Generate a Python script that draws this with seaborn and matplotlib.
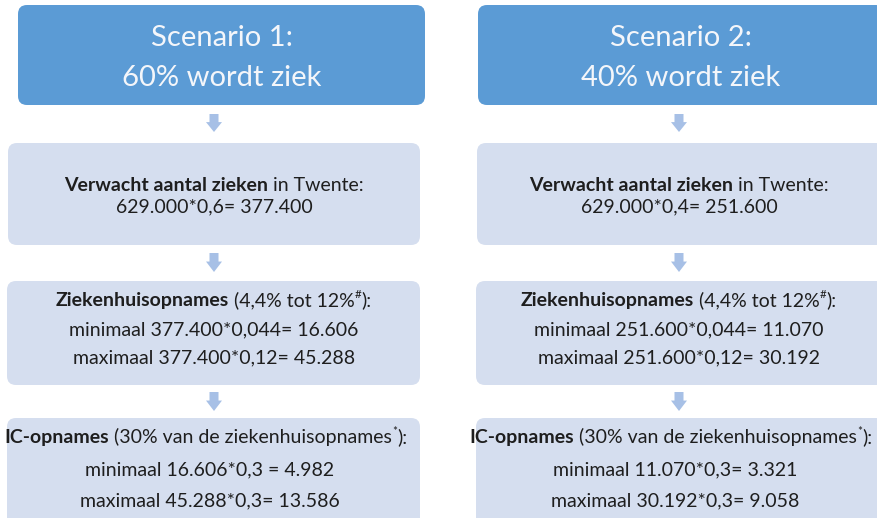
import matplotlib
matplotlib.use("Agg")
import matplotlib.pyplot as plt
import seaborn as sns
from matplotlib.patches import FancyBboxPatch, Polygon

sns.set_theme(style="white")
plt.rcParams["font.family"] = ["Lato", "DejaVu Sans"]

# scenario data
scenario_nr = [1, 2]
share_ill = ["60%", "40%"]
factor_ill = ["0,6", "0,4"]
population = "629.000"
n_ill = ["377.400", "251.600"]
hosp_min = ["16.606", "11.070"]
hosp_max = ["45.288", "30.192"]
ic_min = ["4.982", "3.321"]
ic_max = ["13.586", "9.058"]
ic_min_sep = [" = ", "= "]

HEADER = "#5B9BD5"
LIGHT = "#D5DEEF"
ARROW = "#A7C0E6"
INK = "#1E1E1E"
BODY = 14

fig = plt.figure(figsize=(8.78, 5.18), dpi=100)
ax = fig.add_axes([0, 0, 1, 1])
ax.set_xlim(0, 878)
ax.set_ylim(518, 0)
ax.axis("off")
renderer = fig.canvas.get_renderer()


def box(x0, y0, x1, y1, color):
    p = FancyBboxPatch((x0 + 9, y0 + 9), x1 - x0 - 18, y1 - y0 - 18,
                       boxstyle="round,pad=9", fc=color, ec="none", zorder=1)
    ax.add_patch(p)


def arrow(xc, y0, y1):
    h = y1 - y0
    pts = [(xc - 4.5, y0), (xc + 4.5, y0), (xc + 4.5, y0 + h * 0.45), (xc + 8, y0 + h * 0.45),
           (xc, y1), (xc - 8, y0 + h * 0.45), (xc - 4.5, y0 + h * 0.45)]
    ax.add_patch(Polygon(pts, closed=True, fc=ARROW, ec="none", zorder=1))


def line(xc, y, segs, size=BODY, color=INK):
    # segs: (text, bold, superscript)
    items = []
    for txt, bold, sup in segs:
        t = ax.text(0, y, txt, fontsize=size * (0.6 if sup else 1.0),
                    fontweight="bold" if bold else "normal", color=color,
                    va="baseline", ha="left", zorder=3)
        w = t.get_window_extent(renderer).width
        items.append((t, w, sup))
    total = sum(w for _, w, _ in items)
    x = xc - total / 2
    for t, w, sup in items:
        t.set_x(x)
        if sup:
            t.set_y(y - size * 0.55)
        x += w


cols = [(8, 420, 214), (477, 885, 679)]
for i, (x0, x1, xc) in enumerate(cols):
    hx0 = 18 if i == 0 else 478
    hx1 = 425 if i == 0 else 885
    box(hx0, 5, hx1, 105, HEADER)
    hc = 222 if i == 0 else 681
    ax.text(hc, 38, f"Scenario {scenario_nr[i]}:", fontsize=21, color="#F4F6FA",
            ha="center", va="center", zorder=3)
    ax.text(hc, 78, f"{share_ill[i]} wordt ziek", fontsize=21, color="#F4F6FA",
            ha="center", va="center", zorder=3)

    arrow(xc, 114, 132)
    box(x0, 143, x1, 245, LIGHT)
    line(xc, 191, [("Verwacht aantal zieken", True, False), (" in Twente:", False, False)])
    line(xc, 212, [(f"{population}*{factor_ill[i]}= {n_ill[i]}", False, False)])

    arrow(xc, 253, 272)
    box(x0 - 1, 281, x1, 385, LIGHT)
    line(xc, 306, [("Ziekenhuisopnames", True, False), (" (4,4% tot 12%", False, False),
                   ("#", False, True), ("):", False, False)])
    line(xc, 335, [(f"minimaal {n_ill[i]}*0,044= {hosp_min[i]}", False, False)])
    line(xc, 363, [(f"maximaal {n_ill[i]}*0,12= {hosp_max[i]}", False, False)])

    arrow(xc, 392, 411)
    box(x0 - 1, 418, x1, 545, LIGHT)
    line(xc - 8, 443, [("IC-opnames", True, False), (" (30% van de ziekenhuisopnames", False, False),
                       ("*", False, True), ("):", False, False)])
    line(xc - 4, 475, [(f"minimaal {hosp_min[i]}*0,3{ic_min_sep[i]}{ic_min[i]}", False, False)])
    line(xc - 4, 506, [(f"maximaal {hosp_max[i]}*0,3= {ic_max[i]}", False, False)])

fig.savefig("out.png", dpi=100)
